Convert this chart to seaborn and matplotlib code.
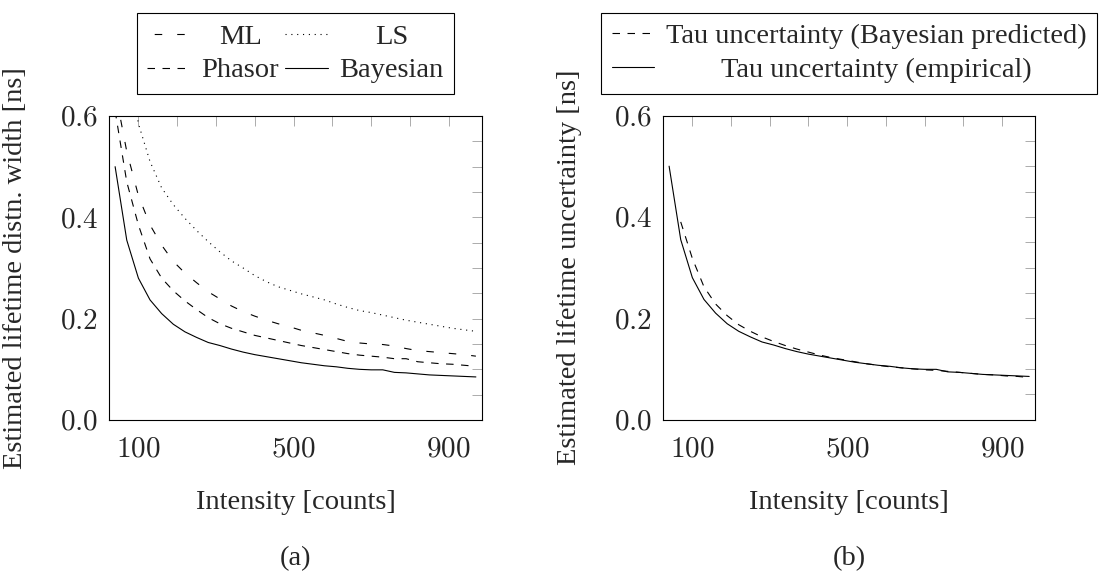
import matplotlib
matplotlib.use("Agg")
import matplotlib.pyplot as plt
import seaborn as sns
from matplotlib.ticker import FixedLocator, MultipleLocator, FuncFormatter

# ---------------- data ----------------
intensity = [40, 70, 100, 130, 160, 190, 220, 250, 280, 310, 340, 370, 400, 430, 460, 490,
             520, 550, 580, 610, 640, 670, 700, 730, 760, 790, 820, 850, 880, 910, 940, 970]

ml = [0.65, 0.53, 0.443, 0.385, 0.345, 0.313, 0.29, 0.271, 0.253, 0.239, 0.225, 0.214, 0.205, 0.197,
      0.190, 0.184, 0.177, 0.172, 0.167, 0.161, 0.155, 0.152, 0.150, 0.149, 0.146, 0.141, 0.137,
      0.135, 0.133, 0.131, 0.129, 0.126]
ls = [0.95, 0.73, 0.585, 0.51, 0.458, 0.425, 0.398, 0.374, 0.352, 0.332, 0.314, 0.30, 0.285, 0.273,
      0.263, 0.256, 0.249, 0.243, 0.237, 0.229, 0.222, 0.216, 0.212, 0.207, 0.202, 0.197, 0.193,
      0.189, 0.185, 0.181, 0.178, 0.175]
phasor = [0.61, 0.47, 0.385, 0.318, 0.28, 0.255, 0.235, 0.218, 0.202, 0.190, 0.181, 0.174, 0.167,
          0.162, 0.157, 0.152, 0.147, 0.143, 0.139, 0.135, 0.131, 0.128, 0.126, 0.124, 0.121, 0.121,
          0.115, 0.113, 0.111, 0.110, 0.108, 0.106]
bayesian = [0.50, 0.355, 0.28, 0.237, 0.21, 0.189, 0.174, 0.163, 0.153, 0.147, 0.140, 0.134, 0.129,
            0.125, 0.121, 0.117, 0.113, 0.110, 0.107, 0.105, 0.102, 0.100, 0.099, 0.099, 0.094,
            0.093, 0.091, 0.089, 0.088, 0.087, 0.086, 0.085]

intensity_pred = [70, 100, 130, 160, 190, 220, 250, 280, 310, 340, 370, 400, 430, 460, 490,
                  520, 550, 580, 610, 640, 670, 700, 730, 760, 790, 820, 850, 880, 910, 940, 970]
tau_predicted = [0.39, 0.318, 0.262, 0.228, 0.205, 0.187, 0.174, 0.163, 0.154, 0.146, 0.139, 0.133,
                 0.127, 0.122, 0.118, 0.114, 0.110, 0.107, 0.104, 0.102, 0.100, 0.098, 0.097,
                 0.095, 0.093, 0.091, 0.089, 0.088, 0.086, 0.085, 0.083]
tau_empirical = [0.50, 0.355, 0.28, 0.237, 0.21, 0.189, 0.174, 0.163, 0.153, 0.147, 0.140, 0.134,
                 0.129, 0.125, 0.121, 0.117, 0.113, 0.110, 0.107, 0.105, 0.102, 0.100, 0.099,
                 0.099, 0.094, 0.093, 0.091, 0.089, 0.088, 0.087, 0.086, 0.085]

x_tick_values = [100, 500, 900]
y_tick_values = [0.0, 0.2, 0.4, 0.6]

left_labels = ["ML", "LS", "Phasor", "Bayesian"]
right_labels = ["Tau uncertainty (Bayesian predicted)", "Tau uncertainty (empirical)"]
x_label = "Intensity [counts]"
y_label_a = "Estimated lifetime distn. width [ns]"
y_label_b = "Estimated lifetime uncertainty [ns]"
sub_labels = ["(a)", "(b)"]

# ---------------- style ----------------
sns.set_style("white")
plt.rcParams["font.family"] = ["Liberation Serif", "DejaVu Serif"]
plt.rcParams["mathtext.fontset"] = "cm"
plt.rcParams["lines.scale_dashes"] = False

FS = 20.5
TFS = 21
LW = 0.8
DASHED = (0, (5.4, 5.4))
LOOSE = (11.0, (5.4, 10.8))
DOTTED = (0, (0.8, 3.4))

W, H = 1099, 574
fig = plt.figure(figsize=(W / 100, H / 100), dpi=100)
ax1 = fig.add_axes([109.3 / W, (H - 420) / H, 372.4 / W, 304 / H])
ax2 = fig.add_axes([663.3 / W, (H - 419.5) / H, 371.7 / W, 304 / H])

# ---------------- left panel ----------------
sns.lineplot(x=intensity, y=ml, ax=ax1, color="black", linewidth=LW, linestyle=LOOSE)
sns.lineplot(x=intensity, y=ls, ax=ax1, color="black", linewidth=LW, linestyle=DOTTED)
sns.lineplot(x=intensity, y=phasor, ax=ax1, color="black", linewidth=LW, linestyle=DASHED)
sns.lineplot(x=intensity, y=bayesian, ax=ax1, color="black", linewidth=LW, linestyle="-")
l_ml, l_ls, l_ph, l_ba = ax1.lines[:4]

# ---------------- right panel ----------------
sns.lineplot(x=intensity_pred, y=tau_predicted, ax=ax2, color="black", linewidth=LW, linestyle=DASHED)
sns.lineplot(x=intensity, y=tau_empirical, ax=ax2, color="black", linewidth=LW, linestyle="-")
r_pr, r_em = ax2.lines[:2]


def style_axes(ax, ylabel, sub):
    ax.set_xlim(25, 985)
    ax.set_ylim(0, 0.6)
    ax.xaxis.set_major_locator(FixedLocator(x_tick_values))
    ax.xaxis.set_minor_locator(MultipleLocator(100))
    ax.yaxis.set_major_locator(FixedLocator(y_tick_values))
    ax.yaxis.set_minor_locator(MultipleLocator(0.05))
    ax.xaxis.set_major_formatter(FuncFormatter(lambda v, p: f"${v:.0f}$"))
    ax.yaxis.set_major_formatter(FuncFormatter(lambda v, p: f"${v:.1f}$"))
    ax.tick_params(which="both", direction="in", top=True, right=True, length=7,
                   width=0.5, color="#8c8c8c", labelsize=TFS)
    ax.tick_params(axis="x", which="both", pad=12)
    ax.tick_params(axis="y", which="both", pad=8)
    for s in ax.spines.values():
        s.set_color("black")
        s.set_linewidth(0.8)
    ax.set_xlabel(x_label, fontsize=FS, labelpad=20)
    ax.set_ylabel(ylabel, fontsize=FS, labelpad=23)
    ax.text(0.5, (420 - 559) / 304, sub, transform=ax.transAxes, ha="center",
            va="center", fontsize=FS)


style_axes(ax1, y_label_a, sub_labels[0])
style_axes(ax2, y_label_b, sub_labels[1])

leg_kw = dict(loc="lower center", bbox_to_anchor=(0.5, 1 + 22 / 304), fontsize=FS,
              handlelength=1.5, handletextpad=0.4, columnspacing=0.23, borderpad=0.37,
              labelspacing=0.28, borderaxespad=0, frameon=True, fancybox=False,
              framealpha=1, edgecolor="black")
leg1 = ax1.legend([l_ml, l_ph, l_ls, l_ba],
                  [left_labels[0], left_labels[2], left_labels[1], left_labels[3]],
                  ncol=2, **leg_kw)
leg2 = ax2.legend([r_pr, r_em], right_labels, ncol=1, **leg_kw)
for lg in (leg1, leg2):
    lg.get_frame().set_linewidth(0.8)

# centre the legend texts within their columns (as in the pgfplots original)
fig.canvas.draw()
renderer = fig.canvas.get_renderer()


def center_columns(texts_by_col):
    for col in texts_by_col:
        widths = [t.get_window_extent(renderer).width for t in col]
        mw = max(widths)
        for t, w in zip(col, widths):
            t.set_x((mw - w) / 2)


t1 = leg1.get_texts()
center_columns([[t1[0], t1[1]], [t1[2], t1[3]]])
t2 = leg2.get_texts()
center_columns([[t2[0], t2[1]]])

fig.savefig("out.png", dpi=100)
